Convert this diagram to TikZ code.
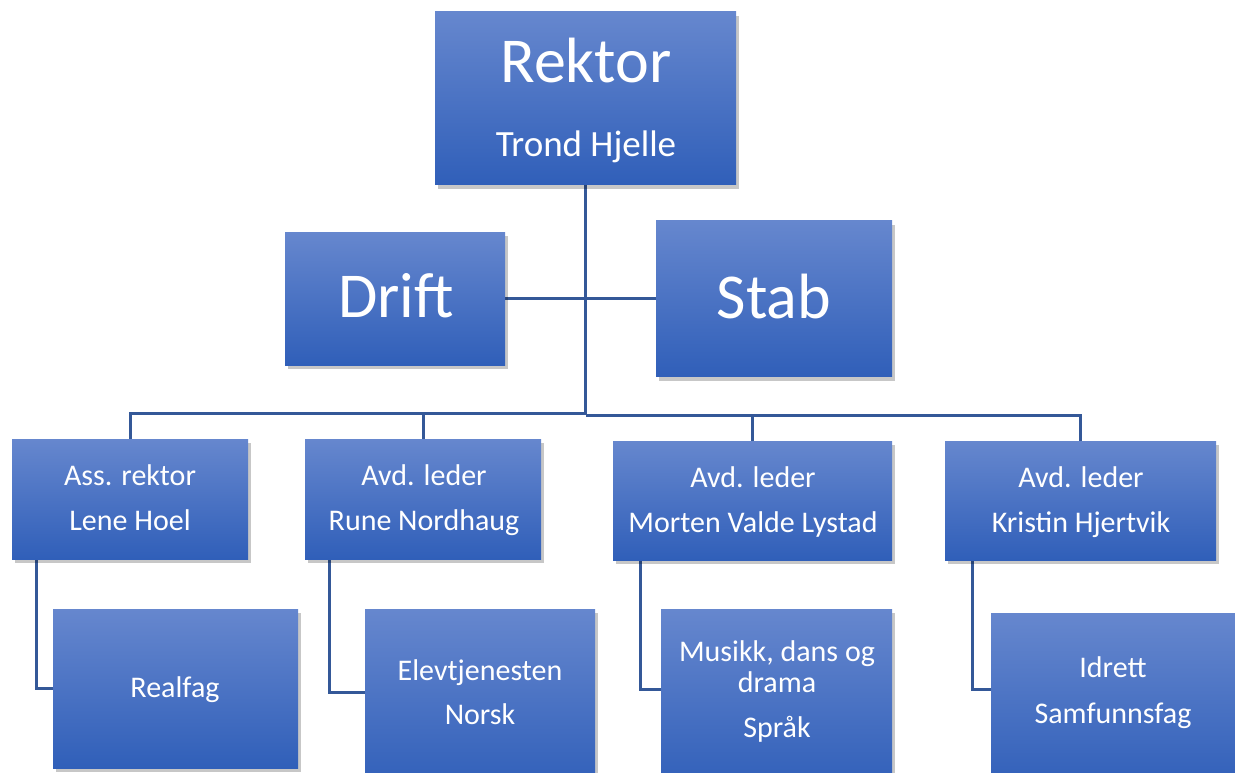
\documentclass[tikz,border=0pt]{standalone}
\usepackage{fontspec}
\setmainfont{Carlito}
\usetikzlibrary{shadows,backgrounds}
\definecolor{boxtop}{RGB}{102,135,206}
\definecolor{boxbot}{RGB}{48,95,185}
\definecolor{linec}{RGB}{52,88,152}
\tikzset{
  orgbox/.style={draw=none, rectangle, inner sep=0pt, top color=boxtop, bottom color=boxbot,
    drop shadow={shadow xshift=3pt, shadow yshift=-4pt, opacity=0.22, fill=black}},
  big/.style={text=white, anchor=base, inner sep=0pt, font=\fontsize{64}{64}\selectfont},
  mid/.style={text=white, anchor=base, inner sep=0pt, font=\fontsize{37}{37}\selectfont},
  small/.style={text=white, anchor=base, inner sep=0pt, font=\fontsize{30}{30}\selectfont},
  conn/.style={draw=linec, line width=3pt}
}
\begin{document}
\begin{tikzpicture}[x=1pt,y=-1pt]
\useasboundingbox (0,0) rectangle (1235,773);
% boxes
\node[orgbox, minimum width=301pt, minimum height=173pt] (rek) at (585.5,98.5) {};
\node[orgbox, minimum width=220pt, minimum height=133pt] (drift) at (395,298.5) {};
\node[orgbox, minimum width=236pt, minimum height=156pt] (stab) at (774,298.5) {};
\node[orgbox, minimum width=236pt, minimum height=120pt] (ass) at (130,499) {};
\node[orgbox, minimum width=236pt, minimum height=120pt] (rune) at (423,499) {};
\node[orgbox, minimum width=279pt, minimum height=119pt] (mort) at (752.5,500.5) {};
\node[orgbox, minimum width=271pt, minimum height=119pt] (kris) at (1080.5,500.5) {};
\node[orgbox, minimum width=245pt, minimum height=159pt] (real) at (175.5,688.5) {};
\node[orgbox, minimum width=230pt, minimum height=181pt] (elev) at (480,699.5) {};
\node[orgbox, minimum width=231pt, minimum height=181pt] (mus) at (776.5,699.5) {};
\node[orgbox, minimum width=249pt, minimum height=177pt] (idr) at (1115.5,701.5) {};
% connectors
\coordinate (busL) at (585.5,413);
\coordinate (busR) at (585.5,415);
\begin{scope}[on background layer]
\draw[conn] (rek.south) -- (busR);
\draw[conn] (drift.east) -- (stab.west);
\draw[conn] (busL) -| (ass.north);
\draw[conn] (busL) -| (rune.north);
\draw[conn] (busR) -| (mort.north);
\draw[conn] (busR) -| (kris.north);
\draw[conn] ([xshift=25pt]ass.south west) |- (real.west);
\draw[conn] ([xshift=25pt]rune.south west) |- ([yshift=-84pt]elev.north west);
\draw[conn] ([xshift=28pt]mort.south west) |- ([yshift=-81pt]mus.north west);
\draw[conn] ([xshift=28pt]kris.south west) |- ([yshift=-77pt]idr.north west);
\end{scope}
% texts
\node[big] (t1) at (586,83) {Rektor};
\node[mid] (t2) at (586,157) {Trond Hjelle};
\node[big] (t3) at (396,317) {Drift};
\node[big] (t4) at (774,318) {Stab};
\node[small] (t5) at (130,485) {Ass. rektor};
\node[small] (t6) at (130,530) {Lene Hoel};
\node[small] (t7) at (424,485) {Avd. leder};
\node[small] (t8) at (424,530) {Rune Nordhaug};
\node[small] (t9) at (753,487) {Avd. leder};
\node[small] (t10) at (753,532) {Morten Valde Lystad};
\node[small] (t11) at (1081,487) {Avd. leder};
\node[small] (t12) at (1081,532) {Kristin Hjertvik};
\node[small] (t13) at (175,697) {Realfag};
\node[small] (t14) at (480,680) {Elevtjenesten};
\node[small] (t15) at (480,724) {Norsk};
\node[small] (t16) at (777,661) {Musikk, dans og};
\node[small] (t17) at (777,692) {drama};
\node[small] (t18) at (777,737) {Språk};
\node[small] (t19) at (1113,677) {Idrett};
\node[small] (t20) at (1113,723) {Samfunnsfag};
\end{tikzpicture}
\end{document}
